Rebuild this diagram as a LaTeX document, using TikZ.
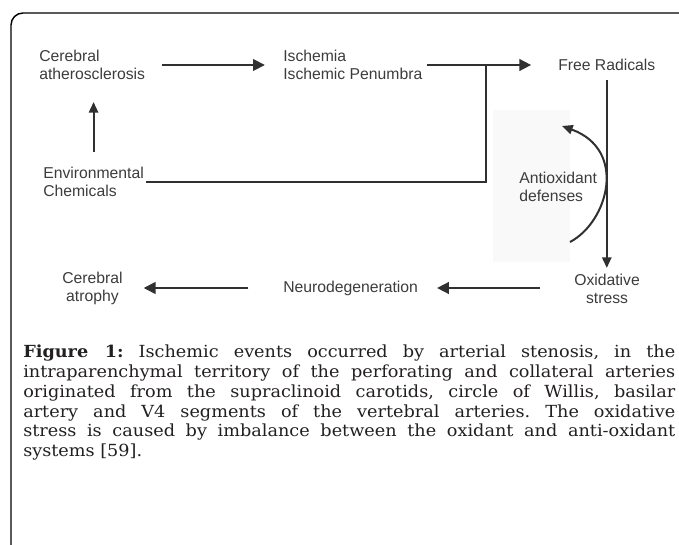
\documentclass[tikz,border=0pt]{standalone}
\usepackage{fontspec}
\setsansfont{Liberation Sans}
\newfontfamily\capfont{DejaVu Serif}[FakeStretch=1.06]
\usetikzlibrary{arrows.meta}

\definecolor{inkgray}{HTML}{3C3C3C}
\definecolor{linegray}{HTML}{303030}
\definecolor{captext}{HTML}{231F20}

% caption size (set inside the box, minipage resets the leading)
\newcommand{\capsize}{\fontsize{12.5}{14.8}\selectfont\frenchspacing}

\begin{document}
\begin{tikzpicture}[
    x=0.75pt,
    y=-0.75pt,
    entity/.style={
        font=\sffamily\fontsize{11.8}{13.5}\selectfont,
        text=inkgray,
        inner sep=0pt,
        align=left
    },
    heavy/.style={
        draw=linegray,
        line width=2.2pt,
        -{Triangle[length=9pt,width=8.5pt]}
    },
    slim/.style={
        draw=linegray,
        line width=1.5pt,
        -{Triangle[length=8pt,width=7pt]}
    },
    slimline/.style={
        draw=linegray,
        line width=1.5pt
    },
    captionbox/.style={
        font=\capfont,
        text=captext,
        text width=489pt,
        align=justify,
        inner sep=0pt
    }
]

\useasboundingbox (0,0) rectangle (679,545);

% -------------------------------------------------
% Frame (left and top edges only)
% -------------------------------------------------

\draw[line width=1.1pt, rounded corners=9pt]
    (11,545) -- (11,13) -- (679,13);

% -------------------------------------------------
% Faint panel behind the antioxidant loop
% -------------------------------------------------

\fill[black!2.5] (493,110) rectangle (570,262);

% -------------------------------------------------
% Labels
% -------------------------------------------------

\node[entity, anchor=west] (athero) at (39,65)  {Cerebral\\atherosclerosis};
\node[entity, anchor=west] (isch)   at (283,65) {Ischemia\\Ischemic Penumbra};
\node[entity, anchor=west] (frad)   at (558,65) {Free Radicals};
\node[entity, anchor=west] (env)    at (43,182) {Environmental\\Chemicals};
\node[entity, anchor=west] (antiox) at (519,187) {Antioxidant\\defenses};

\node[entity, anchor=west, align=center] (oxid)    at (574,289) {Oxidative\\stress};
\node[entity, anchor=west]               (neuro)   at (283,288) {Neurodegeneration};
\node[entity, anchor=west, align=center] (atrophy) at (62,288)  {Cerebral\\atrophy};

% Junction on the upper arrow
\coordinate (jn) at (486,65);
\coordinate (jc) at (486,182);

% Ends of the curved arrow
\coordinate (ca) at (570,242);
\coordinate (cb) at (562,126);

% -------------------------------------------------
% Upper row
% -------------------------------------------------

\draw[heavy, shorten <=12.5pt, shorten >=13.5pt] (athero.east) -- (isch.west);
\draw[heavy, shorten <=3.5pt, shorten >=20pt]  (isch.east) -- (frad.west);

% Environmental chemicals join the ischemia arrow
\draw[slimline, shorten <=1.5pt] (env.east) -- (jc) -- (jn);

\draw[slim, shorten <=11pt, shorten >=16.5pt]
    (env.north) -- (env.north |- athero.south);

% -------------------------------------------------
% Right column
% -------------------------------------------------

\draw[slim, shorten <=7pt, shorten >=4.5pt]
    (frad.south) -- (frad.south |- oxid.north);

\draw[slim] (ca) .. controls (608,222) and (628,150) .. (cb);

% -------------------------------------------------
% Lower row
% -------------------------------------------------

\draw[heavy, shorten <=25.5pt, shorten >=14pt]
    (oxid.west |- neuro.east) -- (neuro.east);
\draw[heavy, shorten <=26pt, shorten >=15.5pt]
    (neuro.west) -- (atrophy.east |- neuro.west);

% -------------------------------------------------
% Caption
% -------------------------------------------------

\node[captionbox, anchor=north west] (cap) at (23,345) {\capsize
    \textbf{Figure 1:} Ischemic events occurred by arterial stenosis, in the\linebreak
    intraparenchymal territory of the perforating and collateral arteries\linebreak
    originated from the supraclinoid carotids, circle of Willis, basilar\linebreak
    artery and V4 segments of the vertebral arteries. The oxidative\linebreak
    stress is caused by imbalance between the oxidant and anti-oxidant\linebreak
    systems [59].\par};

\end{tikzpicture}
\end{document}
